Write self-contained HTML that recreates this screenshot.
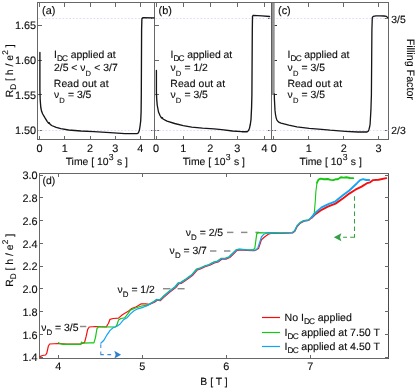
<!DOCTYPE html>
<html><head><meta charset="utf-8"><title>Figure</title>
<style>
html,body{margin:0;padding:0;background:#fff;}
svg{display:block;will-change:transform;}
text{font-family:"Liberation Sans",sans-serif;fill:#0c0c0c;stroke:#0c0c0c;stroke-width:0.12px;text-rendering:geometricPrecision;}
.t{font-size:10.4px;}
.s{font-size:8.3px;letter-spacing:-0.9px;}
.sd{font-size:7.6px;}
.tl{font-size:10.9px;}
.lg{font-size:10.6px;}
.ax{stroke:#676767;stroke-width:1;fill:none;shape-rendering:crispEdges;}
.tk{stroke:#676767;stroke-width:1;fill:none;shape-rendering:crispEdges;}
.dot{stroke:#d9d9ff;stroke-width:0.9;stroke-dasharray:1.7 1.75;fill:none;}
.k{stroke:#161616;stroke-width:1.35;fill:none;stroke-linejoin:round;stroke-linecap:round;}
.c{stroke-width:1.2;fill:none;stroke-linejoin:round;stroke-linecap:round;}
</style></head><body>
<svg width="415" height="390" viewBox="0 0 415 390">
<rect x="0" y="0" width="415" height="390" fill="#ffffff"/>

<rect class="ax" x="37.5" y="2.5" width="351.0" height="137.0"/>
<line class="ax" x1="154.5" y1="2.5" x2="154.5" y2="139.5"/>
<line class="ax" x1="271.5" y1="2.5" x2="271.5" y2="139.5"/>
<line class="tk" x1="39.5" y1="139.5" x2="39.5" y2="135.5"/>
<line class="tk" x1="39.5" y1="2.5" x2="39.5" y2="6.5"/>
<line class="tk" x1="64.5" y1="139.5" x2="64.5" y2="135.5"/>
<line class="tk" x1="64.5" y1="2.5" x2="64.5" y2="6.5"/>
<line class="tk" x1="90.5" y1="139.5" x2="90.5" y2="135.5"/>
<line class="tk" x1="90.5" y1="2.5" x2="90.5" y2="6.5"/>
<line class="tk" x1="115.5" y1="139.5" x2="115.5" y2="135.5"/>
<line class="tk" x1="115.5" y1="2.5" x2="115.5" y2="6.5"/>
<line class="tk" x1="140.5" y1="139.5" x2="140.5" y2="135.5"/>
<line class="tk" x1="140.5" y1="2.5" x2="140.5" y2="6.5"/>
<line class="tk" x1="156.5" y1="139.5" x2="156.5" y2="135.5"/>
<line class="tk" x1="156.5" y1="2.5" x2="156.5" y2="6.5"/>
<line class="tk" x1="183.5" y1="139.5" x2="183.5" y2="135.5"/>
<line class="tk" x1="183.5" y1="2.5" x2="183.5" y2="6.5"/>
<line class="tk" x1="210.5" y1="139.5" x2="210.5" y2="135.5"/>
<line class="tk" x1="210.5" y1="2.5" x2="210.5" y2="6.5"/>
<line class="tk" x1="237.5" y1="139.5" x2="237.5" y2="135.5"/>
<line class="tk" x1="237.5" y1="2.5" x2="237.5" y2="6.5"/>
<line class="tk" x1="264.5" y1="139.5" x2="264.5" y2="135.5"/>
<line class="tk" x1="264.5" y1="2.5" x2="264.5" y2="6.5"/>
<line class="tk" x1="273.5" y1="139.5" x2="273.5" y2="135.5"/>
<line class="tk" x1="273.5" y1="2.5" x2="273.5" y2="6.5"/>
<line class="tk" x1="308.5" y1="139.5" x2="308.5" y2="135.5"/>
<line class="tk" x1="308.5" y1="2.5" x2="308.5" y2="6.5"/>
<line class="tk" x1="343.5" y1="139.5" x2="343.5" y2="135.5"/>
<line class="tk" x1="343.5" y1="2.5" x2="343.5" y2="6.5"/>
<line class="tk" x1="378.5" y1="139.5" x2="378.5" y2="135.5"/>
<line class="tk" x1="378.5" y1="2.5" x2="378.5" y2="6.5"/>
<line class="tk" x1="37.5" y1="25.5" x2="41.5" y2="25.5"/>
<line class="tk" x1="154.5" y1="25.5" x2="158.5" y2="25.5"/>
<line class="tk" x1="271.5" y1="25.5" x2="275.5" y2="25.5"/>
<text class="tl" x="36.2" y="29.2" text-anchor="end">1.65</text>
<line class="tk" x1="37.5" y1="60.5" x2="41.5" y2="60.5"/>
<line class="tk" x1="154.5" y1="60.5" x2="158.5" y2="60.5"/>
<line class="tk" x1="271.5" y1="60.5" x2="275.5" y2="60.5"/>
<text class="tl" x="36.2" y="64.1" text-anchor="end">1.60</text>
<line class="tk" x1="37.5" y1="94.5" x2="41.5" y2="94.5"/>
<line class="tk" x1="154.5" y1="94.5" x2="158.5" y2="94.5"/>
<line class="tk" x1="271.5" y1="94.5" x2="275.5" y2="94.5"/>
<text class="tl" x="36.2" y="98.8" text-anchor="end">1.55</text>
<line class="tk" x1="37.5" y1="130.5" x2="41.5" y2="130.5"/>
<line class="tk" x1="154.5" y1="130.5" x2="158.5" y2="130.5"/>
<line class="tk" x1="271.5" y1="130.5" x2="275.5" y2="130.5"/>
<text class="tl" x="36.2" y="134.3" text-anchor="end">1.50</text>
<line class="tk" x1="154.5" y1="18.5" x2="150.5" y2="18.5"/>
<line class="tk" x1="271.5" y1="18.5" x2="267.5" y2="18.5"/>
<line class="tk" x1="388.5" y1="18.5" x2="384.5" y2="18.5"/>
<line class="tk" x1="154.5" y1="130.5" x2="150.5" y2="130.5"/>
<line class="tk" x1="271.5" y1="130.5" x2="267.5" y2="130.5"/>
<line class="tk" x1="388.5" y1="130.5" x2="384.5" y2="130.5"/>
<line class="dot" x1="38.3" y1="18.5" x2="388.5" y2="18.5"/>
<line class="dot" x1="38.3" y1="130.5" x2="388.5" y2="130.5"/>
<text class="tl" x="39.6" y="152.0" text-anchor="middle">0</text>
<text class="tl" x="64.8" y="152.0" text-anchor="middle">1</text>
<text class="tl" x="90.0" y="152.0" text-anchor="middle">2</text>
<text class="tl" x="115.2" y="152.0" text-anchor="middle">3</text>
<text class="tl" x="140.4" y="152.0" text-anchor="middle">4</text>
<text class="tl" x="156.0" y="152.0" text-anchor="middle">0</text>
<text class="tl" x="183.2" y="152.0" text-anchor="middle">1</text>
<text class="tl" x="210.3" y="152.0" text-anchor="middle">2</text>
<text class="tl" x="237.4" y="152.0" text-anchor="middle">3</text>
<text class="tl" x="264.6" y="152.0" text-anchor="middle">4</text>
<text class="tl" x="273.9" y="152.0" text-anchor="middle">0</text>
<text class="tl" x="308.8" y="152.0" text-anchor="middle">1</text>
<text class="tl" x="343.7" y="152.0" text-anchor="middle">2</text>
<text class="tl" x="378.6" y="152.0" text-anchor="middle">3</text>
<text class="t" x="96.8" y="165" text-anchor="middle">Time [ 10<tspan style="font-size:8.7px" dx="0.3" dy="-5.2">3</tspan><tspan dx="0.4" dy="5.2"> s ]</tspan></text>
<text class="t" x="213.8" y="165" text-anchor="middle">Time [ 10<tspan style="font-size:8.7px" dx="0.3" dy="-5.2">3</tspan><tspan dx="0.4" dy="5.2"> s ]</tspan></text>
<text class="t" x="330.6" y="165" text-anchor="middle">Time [ 10<tspan style="font-size:8.7px" dx="0.3" dy="-5.2">3</tspan><tspan dx="0.4" dy="5.2"> s ]</tspan></text>
<text class="t" transform="translate(13.2,70.8) rotate(-90)" text-anchor="middle">R<tspan style="font-size:8.2px" dy="3">D</tspan><tspan dy="-3"> [ h / e</tspan><tspan style="font-size:8.2px" dx="0.3" dy="-5.6">2</tspan><tspan dy="5.6"> ]</tspan></text>
<text class="t" x="391.3" y="22.7">3/5</text>
<text class="t" x="391.3" y="134.4">2/3</text>
<text style="font-size:10.7px" transform="translate(407.2,69.3) rotate(90)" text-anchor="middle">Filling Factor</text>
<text class="tl" x="42.0" y="14">(a)</text>
<text class="tl" x="158.5" y="14">(b)</text>
<text class="tl" x="278.0" y="14">(c)</text>
<text class="t" x="54.0" y="58.4">I<tspan class="s" dx="0.1" dy="3.0">DC</tspan><tspan dx="3.5" dy="-3.0">applied at</tspan></text>
<text class="t" x="54.0" y="71.2">2/5 &lt; ν<tspan class="sd" dx="0.1" dy="4.9">D</tspan><tspan dx="3.2" dy="-4.9">&lt; 3/7</tspan></text>
<text class="t" x="53.8" y="87.0" style="letter-spacing:0.1px">Read out at</text>
<text class="t" x="54.0" y="98">ν<tspan class="sd" dx="0.1" dy="4.9">D</tspan><tspan dx="3.2" dy="-4.9">= 3/5</tspan></text>
<text class="t" x="170.5" y="58.4">I<tspan class="s" dx="0.1" dy="3.0">DC</tspan><tspan dx="3.5" dy="-3.0">applied at</tspan></text>
<text class="t" x="170.5" y="71.2">ν<tspan class="sd" dx="0.1" dy="4.9">D</tspan><tspan dx="3.2" dy="-4.9">= 1/2</tspan></text>
<text class="t" x="170.3" y="87.0" style="letter-spacing:0.1px">Read out at</text>
<text class="t" x="170.5" y="98">ν<tspan class="sd" dx="0.1" dy="4.9">D</tspan><tspan dx="3.2" dy="-4.9">= 3/5</tspan></text>
<text class="t" x="287.6" y="58.4">I<tspan class="s" dx="0.1" dy="3.0">DC</tspan><tspan dx="3.5" dy="-3.0">applied at</tspan></text>
<text class="t" x="287.6" y="71.2">ν<tspan class="sd" dx="0.1" dy="4.9">D</tspan><tspan dx="3.2" dy="-4.9">= 3/5</tspan></text>
<text class="t" x="287.40000000000003" y="87.0" style="letter-spacing:0.1px">Read out at</text>
<text class="t" x="287.6" y="98">ν<tspan class="sd" dx="0.1" dy="4.9">D</tspan><tspan dx="3.2" dy="-4.9">= 3/5</tspan></text>
<rect x="272" y="3" width="2.7" height="92" fill="#939393"/>
<rect x="271" y="3" width="1" height="92" fill="#5c5c5c"/>
<line class="tk" style="stroke:#333" x1="274.7" y1="25.5" x2="276.6" y2="25.5"/>
<line class="tk" style="stroke:#333" x1="274.7" y1="60.5" x2="276.6" y2="60.5"/>
<line class="tk" style="stroke:#333" x1="274.7" y1="94.5" x2="276.6" y2="94.5"/>
<polyline class="k" points="39.9,52.5 39.9,90.0 40.2,100.0 40.8,107.5 41.6,111.3 42.7,114.0 45.0,117.9 47.3,121.6 48.7,123.3 49.3,122.8 49.9,124.1 51.6,125.5 56.2,127.4 60.8,128.7 68.6,130.0 80.9,131.0 94.0,131.7 110.0,132.6 124.9,133.6 137.0,133.6 138.3,133.0 139.3,130.6 140.0,126.5 140.7,121.0 141.1,112.0 141.3,95.0 141.6,30.0 141.9,18.8 142.8,17.7 154.0,17.9"/>
<polyline class="k" points="156.4,70.5 156.4,92.0 156.7,99.0 157.2,105.0 158.5,112.0 160.0,115.5 161.6,118.1 162.3,117.6 163.0,119.0 167.0,121.2 174.7,123.5 183.2,125.6 191.7,127.2 202.5,128.2 214.0,128.8 221.7,129.7 232.5,131.0 241.8,131.7 247.2,131.7 248.5,130.6 249.5,128.2 250.3,124.5 251.0,119.7 251.6,107.0 251.9,95.0 252.3,30.0 252.5,16.4 253.2,15.3 262.0,15.9 269.6,16.5"/>
<polyline class="k" style="stroke-width:1.3" points="274.3,94.0 274.4,99.0 275.0,110.4 275.5,114.5 276.1,117.6 276.8,119.8 277.8,121.2 279.2,122.4 281.0,123.2 288.8,125.2 296.9,126.8 309.2,128.3 321.6,129.4 330.0,130.2 345.4,131.3 357.8,132.0 367.0,132.0 368.2,131.2 368.9,129.7 369.6,127.0 370.1,124.3 370.9,110.4 371.4,95.0 371.9,30.0 372.3,17.6 373.2,16.4 376.0,15.8 380.0,15.9 384.0,16.0 386.5,16.3 387.6,17.6 388.0,18.3"/>
<rect class="ax" x="39.5" y="173.5" width="349.0" height="185.0"/>
<line class="ax" style="stroke:#4a4a4a" x1="388.5" y1="173.5" x2="388.5" y2="358.5"/>
<line class="tk" x1="39.5" y1="357.5" x2="43.0" y2="357.5"/>
<line class="tk" x1="388.5" y1="357.5" x2="385.0" y2="357.5"/>
<text class="tl" x="37.6" y="361.4" text-anchor="end">1.4</text>
<line class="tk" x1="39.5" y1="334.5" x2="43.0" y2="334.5"/>
<line class="tk" x1="388.5" y1="334.5" x2="385.0" y2="334.5"/>
<text class="tl" x="37.6" y="338.6" text-anchor="end">1.6</text>
<line class="tk" x1="39.5" y1="311.5" x2="43.0" y2="311.5"/>
<line class="tk" x1="388.5" y1="311.5" x2="385.0" y2="311.5"/>
<text class="tl" x="37.6" y="315.9" text-anchor="end">1.8</text>
<line class="tk" x1="39.5" y1="288.5" x2="43.0" y2="288.5"/>
<line class="tk" x1="388.5" y1="288.5" x2="385.0" y2="288.5"/>
<text class="tl" x="37.6" y="293.1" text-anchor="end">2.0</text>
<line class="tk" x1="39.5" y1="266.5" x2="43.0" y2="266.5"/>
<line class="tk" x1="388.5" y1="266.5" x2="385.0" y2="266.5"/>
<text class="tl" x="37.6" y="270.3" text-anchor="end">2.2</text>
<line class="tk" x1="39.5" y1="243.5" x2="43.0" y2="243.5"/>
<line class="tk" x1="388.5" y1="243.5" x2="385.0" y2="243.5"/>
<text class="tl" x="37.6" y="247.6" text-anchor="end">2.4</text>
<line class="tk" x1="39.5" y1="220.5" x2="43.0" y2="220.5"/>
<line class="tk" x1="388.5" y1="220.5" x2="385.0" y2="220.5"/>
<text class="tl" x="37.6" y="224.8" text-anchor="end">2.6</text>
<line class="tk" x1="39.5" y1="197.5" x2="43.0" y2="197.5"/>
<line class="tk" x1="388.5" y1="197.5" x2="385.0" y2="197.5"/>
<text class="tl" x="37.6" y="202.0" text-anchor="end">2.8</text>
<line class="tk" x1="39.5" y1="175.5" x2="43.0" y2="175.5"/>
<line class="tk" x1="388.5" y1="175.5" x2="385.0" y2="175.5"/>
<text class="tl" x="37.6" y="179.2" text-anchor="end">3.0</text>
<line class="tk" x1="58.5" y1="358.5" x2="58.5" y2="355.0"/>
<line class="tk" x1="58.5" y1="173.5" x2="58.5" y2="177.0"/>
<text class="tl" x="58.3" y="370.4" text-anchor="middle">4</text>
<line class="tk" x1="142.5" y1="358.5" x2="142.5" y2="355.0"/>
<line class="tk" x1="142.5" y1="173.5" x2="142.5" y2="177.0"/>
<text class="tl" x="142.3" y="370.4" text-anchor="middle">5</text>
<line class="tk" x1="226.5" y1="358.5" x2="226.5" y2="355.0"/>
<line class="tk" x1="226.5" y1="173.5" x2="226.5" y2="177.0"/>
<text class="tl" x="226.4" y="370.4" text-anchor="middle">6</text>
<line class="tk" x1="310.5" y1="358.5" x2="310.5" y2="355.0"/>
<line class="tk" x1="310.5" y1="173.5" x2="310.5" y2="177.0"/>
<text class="tl" x="310.4" y="370.4" text-anchor="middle">7</text>
<text class="t" x="214" y="385" text-anchor="middle">B [ T ]</text>
<text class="t" transform="translate(13.4,260.3) rotate(-90)" text-anchor="middle">R<tspan style="font-size:8.2px" dy="3">D</tspan><tspan dy="-3"> [ h / e</tspan><tspan style="font-size:8.2px" dx="0.3" dy="-5.6">2</tspan><tspan dy="5.6"> ]</tspan></text>
<text class="t" x="42.5" y="184.2">(d)</text>
<line stroke="#8a8a8a" stroke-width="1.45" fill="none" x1="80" y1="326.5" x2="86.3" y2="326.5"/>
<line stroke="#8a8a8a" stroke-width="1.45" fill="none" x1="163" y1="288.7" x2="170.4" y2="288.7"/>
<line stroke="#8a8a8a" stroke-width="1.45" fill="none" x1="177.6" y1="288.7" x2="184.6" y2="288.7"/>
<line stroke="#8a8a8a" stroke-width="1.45" fill="none" x1="210" y1="251" x2="216.4" y2="251"/>
<line stroke="#8a8a8a" stroke-width="1.45" fill="none" x1="224" y1="251" x2="230.4" y2="251"/>
<line stroke="#8a8a8a" stroke-width="1.45" fill="none" x1="227" y1="232.4" x2="233.4" y2="232.4"/>
<line stroke="#8a8a8a" stroke-width="1.45" fill="none" x1="241" y1="232.4" x2="247.4" y2="232.4"/>
<line stroke="#8a8a8a" stroke-width="1.45" fill="none" x1="255.4" y1="232.4" x2="259" y2="232.4"/>
<text class="t" x="41.2" y="331">ν<tspan style="font-size:7.9px" dx="0.1" dy="4.2">D</tspan><tspan dx="2.9" dy="-4.2">= 3/5</tspan></text>
<text class="t" x="117.5" y="293">ν<tspan style="font-size:7.9px" dx="0.1" dy="4.2">D</tspan><tspan dx="2.9" dy="-4.2">= 1/2</tspan></text>
<text class="t" x="169.6" y="254">ν<tspan style="font-size:7.9px" dx="0.1" dy="4.2">D</tspan><tspan dx="2.9" dy="-4.2">= 3/7</tspan></text>
<text class="t" x="185.8" y="236">ν<tspan style="font-size:7.9px" dx="0.1" dy="4.2">D</tspan><tspan dx="2.9" dy="-4.2">= 2/5</tspan></text>
<polyline class="c" stroke="#f60e0e" points="39.8,356.6 42.5,355.5 45.6,355.0 46.8,353.2 48.3,346.3 49.6,344.0 58.4,343.5 66.9,344.0 80.8,344.0 84.6,342.4 86.2,336.2 87.7,329.3 89.2,327.0 95.4,326.5 106.2,327.0 108.5,323.2 110.0,319.3 113.1,318.5 118.5,318.1 122.4,314.7 127.8,311.6 131.7,308.5 136.3,306.7 140.9,303.9 145.6,303.9 149.4,304.4 154.5,302.3 157.3,300.2 160.4,300.7 163.5,297.6 169.6,292.2 175.8,287.5 178.9,283.7 181.2,283.4 186.6,279.8 192.8,275.2 197.4,269.8 200.5,269.0 205.1,266.8 209.8,265.3 214.4,262.9 218.2,261.9 222.1,259.1 226.0,259.1 229.8,257.5 233.7,253.7 236.8,250.6 239.9,249.8 246.8,250.3 253.7,250.6 255.6,250.3 258.5,248.6 261.4,239.8 264.5,237.0 268.3,234.3 271.7,233.2 280.3,233.3 292.6,233.0 294.9,231.2 297.2,226.5 300.3,223.1 304.1,221.1 308.8,220.4 311.9,217.6"/>
<polyline class="c" stroke="#f60e0e" style="stroke-width:1.9" points="311.9,217.6 315.4,214.1 321.6,209.8 327.8,206.7 335.5,203.6 343.2,198.2 349.3,193.6 355.4,189.7 361.6,186.6 367.0,183.2 370.1,182.3 373.2,180.1 378.6,179.7 386.3,178.1"/>
<polyline class="c" stroke="#14c814" points="58.4,342.7 60.0,343.6 63.0,344.3 80.8,344.3 81.5,342.1 83.0,343.2 89.2,342.9 93.9,342.9 95.4,337.8 97.0,328.5 98.5,326.8 115.5,327.0 117.0,324.7 118.5,320.1 120.9,318.5 124.7,317.8 127.8,313.9 130.4,310.1 134.8,308.2 140.9,306.2 147.1,305.4 151.0,303.1 153.7,301.5 156.5,299.4 159.6,299.9 162.7,296.8 168.8,291.4 175.0,286.7 178.1,282.9 180.4,282.6 185.8,279.0 192.0,274.4 196.6,269.0 199.7,268.2 204.3,266.0 209.0,264.5 213.6,262.1 217.4,261.1 221.3,258.3 225.2,258.3 229.0,256.7 232.9,252.9 236.0,249.8 239.1,249.0 246.0,249.5 252.9,249.8 254.8,248.5 255.9,240.0 256.8,233.6 258.6,232.7 264.0,232.8 271.4,232.7 280.0,232.8 292.3,232.5 294.6,230.7 296.9,226.0 300.0,222.6 303.8,220.6 308.5,219.9 311.6,217.1 314.2,213.6"/>
<polyline class="c" stroke="#14c814" style="stroke-width:1.1" points="314.2,213.6 315.1,203.6 315.9,191.2 317.0,182.7"/>
<polyline class="c" stroke="#14c814" style="stroke-width:1.9" points="317.0,182.7 318.5,179.7 320.8,178.6 324.0,179.3 327.8,179.0 330.5,179.9 333.2,180.1 335.5,179.3 337.8,179.2 340.9,177.3 343.5,177.6 346.3,177.2 350.0,178.0 353.2,178.1"/>
<polyline class="c" stroke="#12a4f6" points="100.8,343.2 103.9,340.2 107.0,334.8 110.1,330.4 113.1,327.8 117.0,326.3 120.1,324.0 123.2,320.1 127.0,317.8 130.4,313.9 134.0,310.8 137.8,308.8 143.2,307.3 147.9,305.4 151.7,303.1 154.0,301.8 156.8,299.7 159.9,300.2 163.0,297.1 169.1,291.7 175.3,287.0 178.4,283.2 180.7,282.9 186.1,279.3 192.3,274.7 196.9,269.3 200.0,268.5 204.6,266.3 209.3,264.8 213.9,262.4 217.7,261.4 221.6,258.6 225.5,258.6 229.3,257.0 233.2,253.2 236.3,250.1 239.4,249.3 246.3,249.8 253.2,250.1 255.6,250.1 257.9,247.8 259.9,241.7 261.4,237.0 263.7,234.3 266.8,233.2 271.4,232.9 280.0,233.0 292.3,232.7 294.6,230.9 296.9,226.2 300.0,222.8 303.8,220.8 308.5,220.1 311.6,217.3"/>
<polyline class="c" stroke="#12a4f6" style="stroke-width:1.9" points="311.6,217.3 315.4,212.8 321.6,207.4 327.8,204.4 335.5,201.3 343.2,195.1 349.3,190.5 357.0,183.2 360.1,180.1 363.1,179.2 366.2,180.0 369.3,180.0"/>
<path d="M354.5 196.3V237.3" stroke="#36a046" stroke-width="1.05" stroke-dasharray="4.5 3.05" fill="none"/>
<path d="M354.9 237.2H350.2M347 237.2H343.1" stroke="#36a046" stroke-width="1.05" fill="none"/>
<path d="M333.8 237.2L341.4 233.3L340.0 237.2L341.4 241.2Z" fill="#36a046"/>
<path d="M100.8 344.2V348M100.8 351.4V355M100.3 354.6H103.8M107.4 354.6H111.1" stroke="#3f8ad8" stroke-width="1.05" fill="none"/>
<path d="M121.1 354.7L114.3 350.8L115.7 354.7L114.3 358.6Z" fill="#2f80cc"/>
<line x1="262" y1="317.5" x2="280" y2="317.5" stroke="#f60e0e" stroke-width="1.2"/>
<line x1="262" y1="332.5" x2="280" y2="332.5" stroke="#14c814" stroke-width="1.2"/>
<line x1="262" y1="346.5" x2="280" y2="346.5" stroke="#12a4f6" stroke-width="1.2"/>
<text class="lg" x="284.5" y="321">No I<tspan class="s" dx="0.1" dy="3.0">DC</tspan><tspan dx="3.5" dy="-3.0">applied</tspan></text>
<text class="lg" x="284.5" y="336">I<tspan class="s" dx="0.1" dy="3.0">DC</tspan><tspan dx="3.5" dy="-3.0">applied at 7.50 T</tspan></text>
<text class="lg" x="284.5" y="350">I<tspan class="s" dx="0.1" dy="3.0">DC</tspan><tspan dx="3.5" dy="-3.0">applied at 4.50 T</tspan></text>
</svg></body></html>
